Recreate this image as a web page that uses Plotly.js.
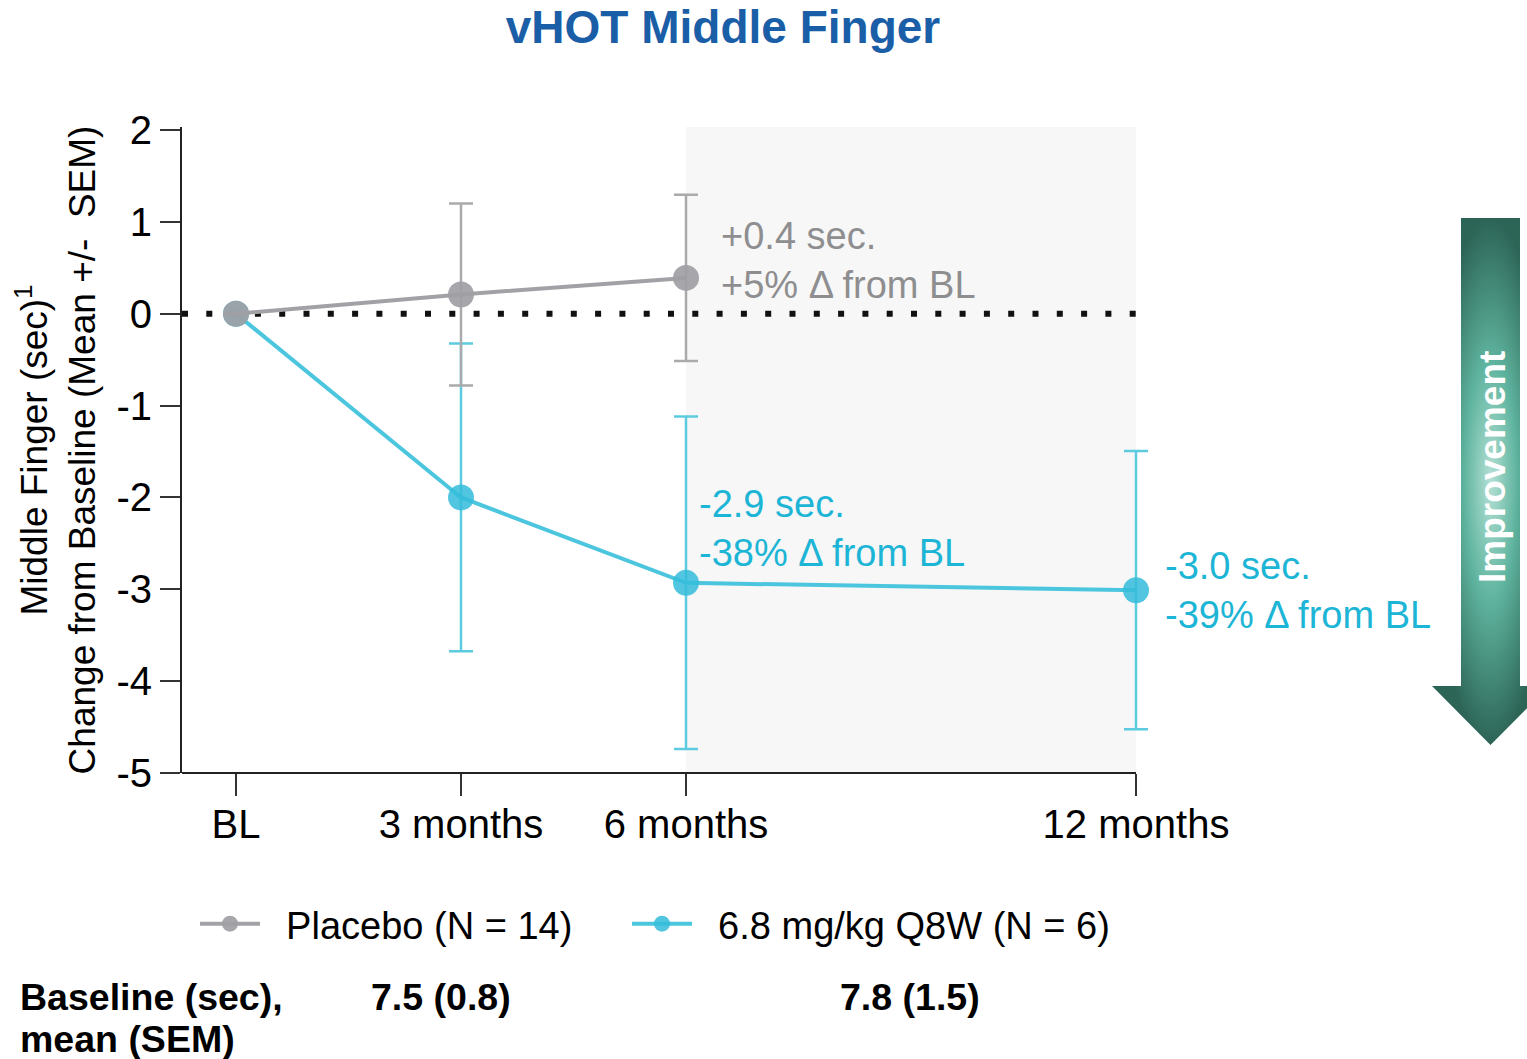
<!DOCTYPE html>
<html>
<head>
<meta charset="utf-8">
<script src="https://cdn.plot.ly/plotly-3.0.1.min.js"></script>
<style>html,body{margin:0;padding:0;background:#fff;}#chart{width:1527px;height:1059px;}</style>
</head>
<body>
<div id="chart"></div>
<script>
// ---- data ----
const months = [0, 3, 6, 12];
const tickLabels = ['BL', '3 months', '6 months', '12 months'];
const yTickVals = [-5, -4, -3, -2, -1, 0, 1, 2];
const yTickLabels = ['-5', '-4', '-3', '-2', '-1', '0', '1', '2'];
const placeboMonths = [0, 3, 6];
const placeboMean = [0, 0.21, 0.39];
const placeboSEM = [0, 0.99, 0.905];
const drugMonths = [0, 3, 6, 12];
const drugMean = [0, -2.0, -2.93, -3.01];
const drugSEM = [0, 1.675, 1.81, 1.515];
const seriesNames = ['Placebo (N = 14)', '6.8 mg/kg Q8W (N = 6)'];
const baselineLabelLines = ['Baseline (sec),', 'mean (SEM)'];
const baselineValues = ['7.5 (0.8)', '7.8 (1.5)'];
const placeboNote = '+0.4 sec.<br>+5% Δ from BL';
const drugNote6 = '-2.9 sec.<br>-38% Δ from BL';
const drugNote12 = '-3.0 sec.<br>-39% Δ from BL';

// ---- geometry helpers ----
const W = 1527, H = 1059;
const M = {l: 182, r: 0, t: 127, b: 286};
const PW = W - M.l - M.r, PH = H - M.t - M.b;
const px = p => (p - M.l) / PW;
const py = p => (H - M.b - p) / PH;

const FONT = 'Liberation Sans, Arial, Helvetica, sans-serif';
const GREY = '#a2a2a6';
const TEAL = '#4cc6de';
const NB = '\u00a0\u00a0';

const traces = [
  {
    x: drugMonths, y: drugMean, name: NB + seriesNames[1], type: 'scatter', mode: 'lines+markers',
    line: {color: TEAL, width: 4},
    marker: {color: 'rgba(52,188,218,0.85)', size: 26},
    error_y: {type: 'data', array: drugSEM, visible: true, color: '#5ccbe0', thickness: 2.5, width: 12},
    cliponaxis: false, legend: 'legend2', hoverinfo: 'x+y'
  },
  {
    x: placeboMonths, y: placeboMean, name: NB + seriesNames[0], type: 'scatter', mode: 'lines+markers',
    line: {color: GREY, width: 4},
    marker: {color: 'rgba(160,160,164,0.92)', size: 26},
    error_y: {type: 'data', array: placeboSEM, visible: true, color: '#aaaaac', thickness: 2.5, width: 12},
    cliponaxis: false, legend: 'legend', hoverinfo: 'x+y'
  },
  {
    // decorative "Improvement" arrow
    x: [-29.5, 29.5, 29.5, 58.5, 0, -58.5, -29.5, -29.5],
    y: [0, 0, -468, -468, -527, -468, -468, 0],
    xaxis: 'x2', yaxis: 'y2', type: 'scatter', mode: 'lines', fill: 'toself',
    line: {width: 0, color: 'rgba(0,0,0,0)'},
    fillgradient: {type: 'radial', colorscale: [[0, '#b4e0d4'], [0.45, '#5fb49f'], [1, '#2c6456']]},
    showlegend: false, hoverinfo: 'skip'
  }
];

const legendCommon = {
  orientation: 'h', xanchor: 'left', yanchor: 'middle', y: py(924),
  font: {size: 38, color: '#000'}, bgcolor: 'rgba(0,0,0,0)',
  itemwidth: 60, itemsizing: 'trace'
};

const ann = (xp, yp, text, extra) => Object.assign({
  xref: 'paper', yref: 'paper', x: px(xp), y: py(yp), text: text, showarrow: false,
  xanchor: 'center', yanchor: 'middle', font: {size: 37.5, color: '#000'}
}, extra || {});

const layout = {
  width: W, height: H,
  margin: M,
  paper_bgcolor: '#fff', plot_bgcolor: 'rgba(0,0,0,0)',
  font: {family: FONT, color: '#000', size: 36},
  showlegend: true,
  title: {
    text: '<b>vHOT Middle Finger</b>',
    font: {family: FONT, size: 46, color: '#1a5ea8'},
    xref: 'container', x: 723 / W, xanchor: 'center',
    yref: 'container', y: 1 - 27 / H, yanchor: 'middle'
  },
  xaxis: {
    domain: [0, (1160 - M.l) / PW],
    range: [-0.72, 12.32],
    tickmode: 'array', tickvals: months, ticktext: tickLabels,
    ticks: 'outside', ticklen: 22, tickwidth: 2, tickcolor: '#333',
    tickfont: {size: 40, color: '#000'}, ticklabelstandoff: -6,
    showline: false,
    showgrid: false, zeroline: false, automargin: false, fixedrange: true
  },
  yaxis: {
    range: [-5, 2.033],
    tickmode: 'array', tickvals: yTickVals, ticktext: yTickLabels,
    ticks: 'outside', ticklen: 20, tickwidth: 2, tickcolor: '#333',
    tickfont: {size: 40, color: '#000'},
    showline: true, linecolor: '#222', linewidth: 2,
    showgrid: false, zeroline: false, automargin: false, fixedrange: true,
    title: {
      text: 'Middle Finger (sec)<sup>1</sup><br>Change from Baseline (Mean +/-&nbsp; SEM)',
      font: {size: 37, color: '#000'}, standoff: 9
    }
  },
  xaxis2: {domain: [(1432 - M.l) / PW, 1], range: [-58.5, 36.5], visible: false, fixedrange: true, anchor: 'y2'},
  yaxis2: {domain: [py(745), py(218)], range: [-527, 0], visible: false, fixedrange: true, anchor: 'x2'},
  legend: Object.assign({}, legendCommon, {x: px(195)}),
  legend2: Object.assign({}, legendCommon, {x: px(627)}),
  shapes: [
    {type: 'rect', xref: 'x', yref: 'paper', x0: 6, x1: 12, y0: 0, y1: 1,
     fillcolor: '#f7f7f7', line: {width: 0}, layer: 'below'},
    {type: 'line', xref: 'x', yref: 'y', x0: -0.72, x1: 12, y0: 0, y1: 0,
     line: {color: '#111', width: 6, dash: '6px,18.3px'}, layer: 'below'},
    {type: 'line', xref: 'x', yref: 'paper', x0: -0.72, x1: 12, y0: 0, y1: 0,
     line: {color: '#222', width: 2}, layer: 'above'}
  ],
  annotations: [
    {xref: 'x', yref: 'y', x: placeboMonths[2], y: placeboMean[2], text: placeboNote,
     xanchor: 'left', yanchor: 'middle', align: 'left', xshift: 33, yshift: 17, showarrow: false,
     font: {size: 38, color: '#8e8e90'}},
    {xref: 'x', yref: 'y', x: drugMonths[2], y: drugMean[2], text: drugNote6,
     xanchor: 'left', yanchor: 'middle', align: 'left', xshift: 11, yshift: 54, showarrow: false,
     font: {size: 38, color: '#1db5d6'}},
    {xref: 'x', yref: 'y', x: drugMonths[3], y: drugMean[3], text: drugNote12,
     xanchor: 'left', yanchor: 'middle', align: 'left', xshift: 27, yshift: 0, showarrow: false,
     font: {size: 38, color: '#1db5d6'}},
    ann(1492, 467, '<b>Improvement</b>', {textangle: -90, font: {size: 37, color: '#fff'}}),
    ann(18, 997, '<b>' + baselineLabelLines[0] + '</b>', {xanchor: 'left'}),
    ann(18, 1039, '<b>' + baselineLabelLines[1] + '</b>', {xanchor: 'left'}),
    ann(441, 997, '<b>' + baselineValues[0] + '</b>'),
    ann(910, 997, '<b>' + baselineValues[1] + '</b>')
  ]
};

Plotly.newPlot('chart', traces, layout, {displayModeBar: false, staticPlot: true});
</script>
</body>
</html>
